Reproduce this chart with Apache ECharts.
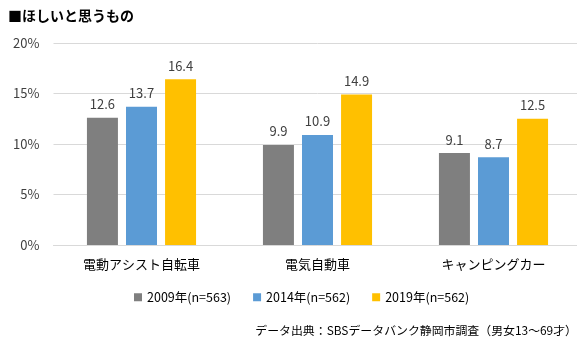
<!DOCTYPE html>
<html>
<head>
<meta charset="utf-8">
<script src="https://cdn.jsdelivr.net/npm/echarts@6/dist/echarts.min.js"></script>
<style>
html,body{margin:0;padding:0;background:#fff;overflow:hidden;}
#c{width:582px;height:343px;}
</style>
</head>
<body>
<div id="c"></div>
<script>
const categories = ['電動アシスト自転車', '電気自動車', 'キャンピングカー'];
const seriesNames = ['2009年(n=563)', '2014年(n=562)', '2019年(n=562)'];
const values2009 = [12.6, 9.9, 9.1];
const values2014 = [13.7, 10.9, 8.7];
const values2019 = [16.4, 14.9, 12.5];
const colors = ['#7F7F7F', '#5B9BD5', '#FFC000'];
const yTicks = [0, 5, 10, 15, 20];

const FONT = '"Noto Sans CJK JP", "Noto Sans", sans-serif';
const chart = echarts.init(document.getElementById('c'), null, {renderer: 'canvas'});
const allValues = [values2009, values2014, values2019];
chart.setOption({
  animation: false,
  textStyle: {fontFamily: FONT},
  title: [{
    text: '■ほしいと思うもの',
    left: 3, top: 4,
    textStyle: {fontSize: 14, fontWeight: 'bold', color: '#000', fontFamily: FONT}
  }, {
    text: 'データ出典：SBSデータバンク静岡市調査（男女13～69才）',
    right: 0, top: 320,
    textStyle: {fontSize: 11.9, fontWeight: 'normal', color: '#000', fontFamily: FONT}
  }],
  legend: {
    data: seriesNames,
    left: 129, top: 286,
    itemWidth: 8, itemHeight: 8, itemGap: 22,
    icon: 'rect',
    textStyle: {fontSize: 12.5, color: '#000', fontFamily: FONT}
  },
  grid: {left: 53.5, top: 43, right: 0.5, height: 202},
  xAxis: {
    type: 'category',
    data: categories,
    axisLine: {lineStyle: {color: '#D9D9D9'}},
    axisTick: {show: false},
    axisLabel: {fontSize: 13, color: '#000', margin: 13, fontFamily: FONT}
  },
  yAxis: {
    type: 'value',
    min: yTicks[0], max: yTicks[yTicks.length - 1], interval: 5,
    axisLine: {show: false},
    axisTick: {show: false},
    splitLine: {lineStyle: {color: '#D9D9D9'}},
    axisLabel: {fontSize: 13, color: '#404040', margin: 14, formatter: v => v + '%', fontFamily: FONT}
  },
  series: seriesNames.map((n, i) => ({
    name: n,
    type: 'bar',
    data: allValues[i],
    barWidth: 31,
    barGap: '26%',
    itemStyle: {color: colors[i]},
    label: {
      show: true, position: 'top', distance: 7,
      fontSize: 13, color: '#404040', fontFamily: FONT,
      formatter: p => p.value.toFixed(1)
    }
  }))
});
</script>
</body>
</html>
